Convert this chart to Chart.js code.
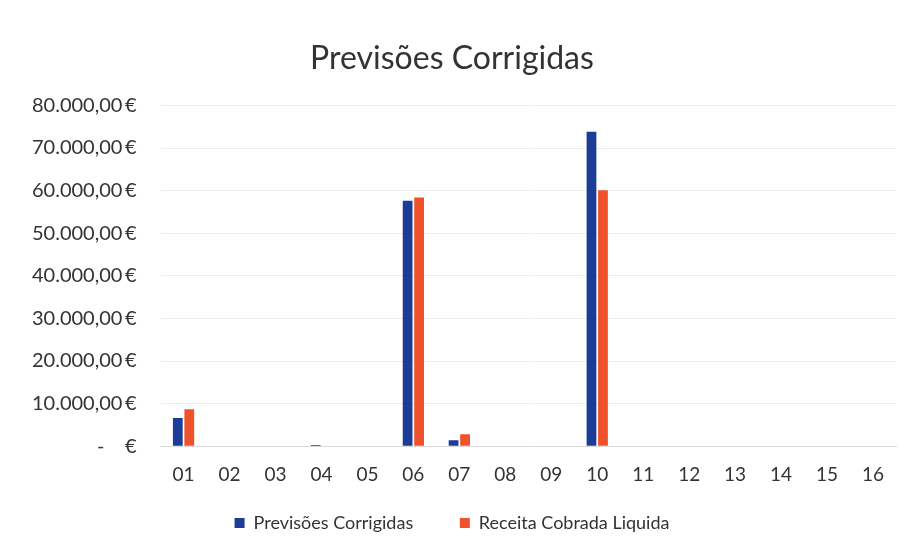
<!DOCTYPE html>
<html>
<head>
<meta charset="utf-8">
<script src="https://cdn.jsdelivr.net/npm/chart.js@4/dist/chart.umd.min.js"></script>
<style>
  html, body { margin: 0; padding: 0; background: #fff; }
  #wrap { width: 914px; height: 559px; position: relative; }
</style>
</head>
<body>
<div id="wrap"><canvas id="barChart"></canvas></div>
<script>
// categories
var months = ["01", "02", "03", "04", "05", "06", "07", "08", "09", "10", "11", "12", "13", "14", "15", "16"];

// series values (euros)
var previsoes = [6600, 0, 0, 300, 0, 57600, 1400, 0, 0, 73800, 0, 0, 0, 0, 0, 0];
var receita = [8700, 0, 0, 0, 0, 58400, 2800, 0, 0, 60100, 0, 0, 0, 0, 0, 0];

var font = "Lato, 'Open Sans', sans-serif";

function euro(v) {
    if (v === 0) return "-    €";
    var s = Math.round(v).toString().replace(/\B(?=(\d{3})+(?!\d))/g, ".");
    return s + ",00\u2009€";
}

var ctx = document.getElementById('barChart').getContext('2d');
var myBarChart = new Chart(ctx, {
    type: 'bar',
    data: {
        labels: months,
        datasets: [{
            label: "Previsões Corrigidas",
            backgroundColor: '#1b3d98',
            data: previsoes,
            categoryPercentage: 0.5,
            barPercentage: 0.85
        }, {
            label: "Receita Cobrada Liquida",
            backgroundColor: '#f0502a',
            data: receita,
            categoryPercentage: 0.5,
            barPercentage: 0.85
        }]
    },
    options: {
        responsive: true,
        maintainAspectRatio: false,
        animation: false,
        layout: { padding: { left: 8, right: 18, top: 39, bottom: 17 } },
        plugins: {
            title: {
                display: true,
                text: "Previsões Corrigidas",
                color: '#333',
                font: { family: font, size: 32, weight: 'normal' },
                padding: { top: 0, bottom: 28 }
            },
            legend: {
                position: 'bottom',
                labels: {
                    color: '#333',
                    font: { family: font, size: 18 },
                    boxWidth: 10,
                    boxHeight: 10,
                    padding: 19,
                    generateLabels: function (chart) {
                        var items = Chart.defaults.plugins.legend.labels.generateLabels(chart);
                        // wider gap between the two legend entries
                        items[0].text = items[0].text + "      ";
                        return items;
                    }
                }
            },
            tooltip: { enabled: false }
        },
        scales: {
            x: {
                grid: { display: false },
                border: { color: '#d9d9d9' },
                ticks: {
                    color: '#333',
                    font: { family: font, size: 19 },
                    padding: 9
                }
            },
            y: {
                min: 0,
                max: 80000,
                grid: { color: '#ececec', drawTicks: false },
                border: { display: false },
                ticks: {
                    stepSize: 10000,
                    color: '#333',
                    font: { family: font, size: 20 },
                    padding: 24,
                    callback: function (v) { return euro(v); }
                }
            }
        }
    }
});
</script>
</body>
</html>
